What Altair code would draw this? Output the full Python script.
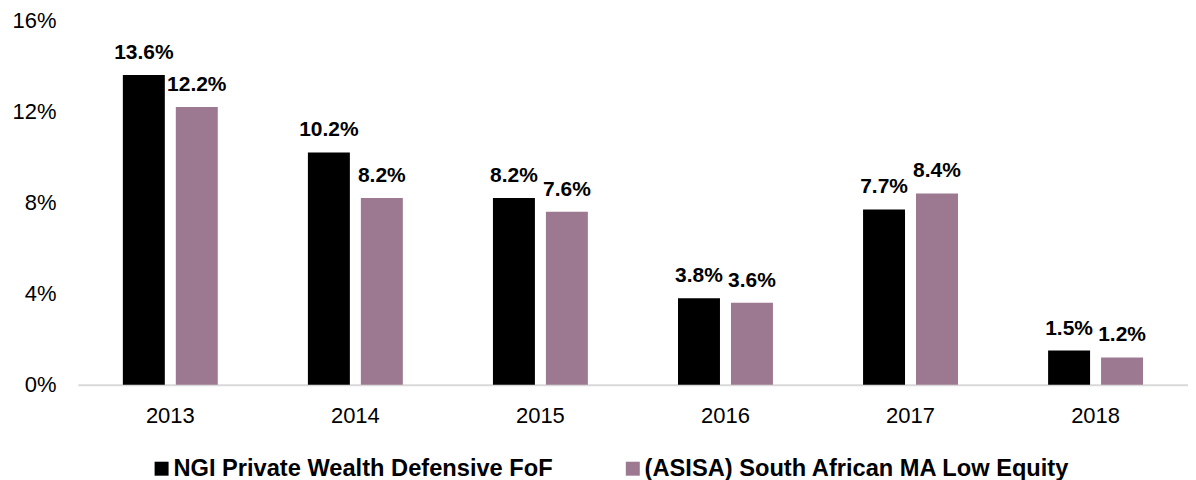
import altair as alt
import pandas as pd

years = ["2013", "2014", "2015", "2016", "2017", "2018"]
series = ["NGI Private Wealth Defensive FoF", "(ASISA) South African MA Low Equity"]
ngi = [13.6, 10.2, 8.2, 3.8, 7.7, 1.5]
asisa = [12.2, 8.2, 7.6, 3.6, 8.4, 1.2]
colors = ["#000000", "#9c7991"]

rows = []
for i, y in enumerate(years):
    rows.append({"year": y, "series": series[0], "value": ngi[i] / 100})
    rows.append({"year": y, "series": series[1], "value": asisa[i] / 100})
df = pd.DataFrame(rows)

FONT = "Liberation Sans"

x = alt.X("year:N", sort=years, title=None,
          scale=alt.Scale(paddingInner=0.487, paddingOuter=0.243),
          axis=alt.Axis(labelAngle=0, labelFontSize=22, labelColor="#000000", labelFont=FONT,
                        ticks=False, domainColor="#d9d9d9", domainWidth=2, labelPadding=21))
xoff = alt.XOffset("series:N", sort=series, scale=alt.Scale(paddingInner=0.2075, paddingOuter=0))
y = alt.Y("value:Q", title=None,
          scale=alt.Scale(domain=[0, 0.16], nice=False),
          axis=alt.Axis(values=[0, 0.04, 0.08, 0.12, 0.16], format=".0%", grid=False, domain=False,
                        ticks=False, labelFontSize=22, labelColor="#000000", labelFont=FONT,
                        labelPadding=22))

bars = alt.Chart(df).mark_bar().encode(
    x=x, xOffset=xoff, y=y,
    color=alt.Color("series:N", sort=series,
                    scale=alt.Scale(domain=series, range=colors),
                    legend=alt.Legend(title=None, orient="none", direction="horizontal",
                                      legendX=72, legendY=437,
                                      symbolType="square", symbolSize=196, symbolStrokeWidth=0,
                                      labelFontSize=23.7, labelFontWeight="bold", labelFont=FONT,
                                      labelColor="#000000", columnPadding=68, labelOffset=0,
                                      labelLimit=0)),
)

labels = alt.Chart(df).mark_text(baseline="alphabetic", dy=-16, fontSize=21, fontWeight="bold",
                                 font=FONT, color="#000000").encode(
    x=x, xOffset=xoff, y=y,
    text=alt.Text("value:Q", format=".1%"),
)

chart = alt.layer(bars, labels).properties(
    width=1112, height=365,
    autosize=alt.AutoSizeParams(type="none"),
    padding={"left": 70, "top": 12, "right": 0, "bottom": 98},
).configure_view(stroke=None)

chart.save("out.html", embed_options={"renderer": "svg", "actions": False})
